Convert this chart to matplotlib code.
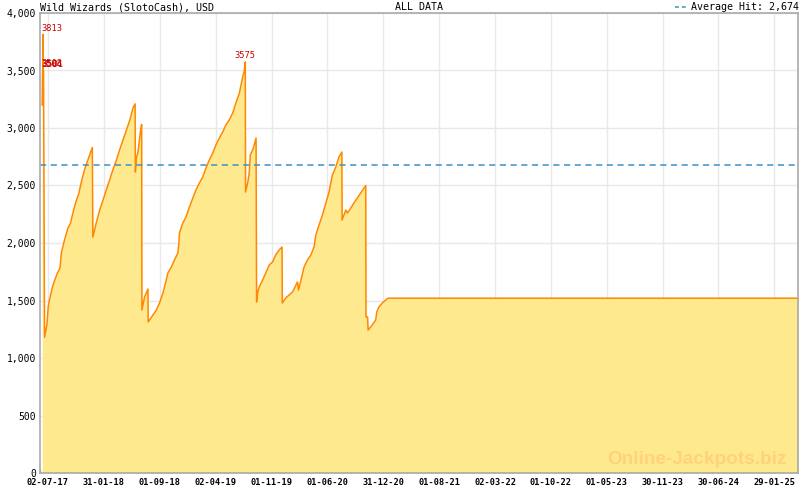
import matplotlib
matplotlib.use("Agg")
import matplotlib.pyplot as plt
import matplotlib.dates as mdates
from matplotlib.lines import Line2D
import numpy as np

# ---------------- data ----------------
dates = [
    "2017-06-10", "2017-06-11", "2017-06-12", "2017-06-13", "2017-06-14", "2017-06-15", "2017-06-19",
    "2017-06-28", "2017-07-03", "2017-07-10", "2017-07-19", "2017-07-28", "2017-08-07", "2017-08-17",
    "2017-08-22", "2017-09-01", "2017-09-16", "2017-09-26", "2017-10-05", "2017-10-15", "2017-10-28",
    "2017-11-06", "2017-11-18", "2017-12-05", "2017-12-18", "2017-12-20",
    "2018-01-02", "2018-01-15", "2018-01-28", "2018-02-09", "2018-02-22", "2018-03-06", "2018-03-20",
    "2018-04-01", "2018-04-14", "2018-04-27", "2018-05-10", "2018-05-22", "2018-05-30", "2018-05-31",
    "2018-06-04", "2018-06-10", "2018-06-20", "2018-06-24", "2018-06-25", "2018-07-05", "2018-07-18",
    "2018-07-19", "2018-08-06", "2018-08-19", "2018-08-31", "2018-09-13", "2018-09-23", "2018-10-02",
    "2018-10-15", "2018-10-27", "2018-11-09", "2018-11-13", "2018-11-15", "2018-11-28", "2018-12-10",
    "2018-12-23", "2019-01-05", "2019-01-17", "2019-01-30", "2019-02-12", "2019-02-24", "2019-03-09",
    "2019-03-22", "2019-04-03", "2019-04-16", "2019-04-29", "2019-05-11", "2019-05-24", "2019-06-06",
    "2019-06-18", "2019-07-01", "2019-07-14", "2019-07-20", "2019-07-24", "2019-07-25", "2019-08-02",
    "2019-08-08", "2019-08-12", "2019-08-21", "2019-08-27", "2019-09-03", "2019-09-05", "2019-09-09",
    "2019-09-15", "2019-09-28", "2019-10-10", "2019-10-23", "2019-11-05", "2019-11-17", "2019-11-30",
    "2019-12-11", "2019-12-12", "2019-12-25", "2020-01-07", "2020-01-20", "2020-02-02", "2020-02-08",
    "2020-02-12", "2020-02-21", "2020-03-04", "2020-03-17", "2020-03-30", "2020-04-11", "2020-04-18",
    "2020-04-30", "2020-05-13", "2020-05-26", "2020-06-07", "2020-06-20", "2020-07-03", "2020-07-15",
    "2020-07-26", "2020-07-27", "2020-08-10", "2020-08-16", "2020-08-29", "2020-09-10", "2020-09-23",
    "2020-10-06", "2020-10-25", "2020-10-26", "2020-11-01", "2020-11-03", "2020-11-19", "2020-12-02",
    "2020-12-06", "2020-12-14", "2020-12-27", "2021-01-09", "2021-01-18", "2025-05-10",
]
values = [
    3200, 3440, 3504, 3813, 3508, 3501, 1180,
    1290, 1450, 1530, 1617, 1678, 1739, 1783,
    1913, 2009, 2130, 2174, 2261, 2348, 2435,
    2530, 2635, 2748, 2830, 2050,
    2174, 2287, 2374, 2461, 2548, 2635, 2722,
    2809, 2896, 2983, 3070, 3174, 3210, 2617,
    2739, 2791, 2983, 3030, 1417, 1530, 1600,
    1313, 1374, 1417, 1478, 1565, 1652, 1739,
    1791, 1852, 1913, 2000, 2087, 2174, 2226,
    2313, 2391, 2461, 2522, 2574, 2652, 2722,
    2783, 2852, 2913, 2965, 3026, 3070, 3130,
    3217, 3300, 3443, 3498, 3575, 2443, 2522,
    2609, 2765, 2809, 2852, 2913, 1487, 1565,
    1617, 1678, 1739, 1809, 1835, 1896, 1939,
    1965, 1478, 1522, 1548, 1574, 1635, 1661,
    1591, 1678, 1791, 1852, 1896, 1965, 2070,
    2157, 2243, 2348, 2443, 2591, 2661, 2748,
    2791, 2200, 2287, 2260, 2304, 2348, 2391,
    2435, 2500, 1357, 1357, 1243, 1287, 1330,
    1400, 1443, 1478, 1504, 1520, 1520,
]
average_hit = 2674
label_threshold = 3500

tick_dates = ["2017-07-02", "2018-01-31", "2018-09-01", "2019-04-02", "2019-11-01",
              "2020-06-01", "2020-12-31", "2021-08-01", "2022-03-02", "2022-10-01",
              "2023-05-01", "2023-11-30", "2024-06-30", "2025-01-29"]
tick_labels = ["02-07-17", "31-01-18", "01-09-18", "02-04-19", "01-11-19",
               "01-06-20", "31-12-20", "01-08-21", "02-03-22", "01-10-22",
               "01-05-23", "30-11-23", "30-06-24", "29-01-25"]
y_ticks = [0, 500, 1000, 1500, 2000, 2500, 3000, 3500, 4000]

title = "Wild Wizards (SlotoCash), USD"
subtitle = "ALL DATA"
watermark = "Online-Jackpots.biz"

# ---------------- drawing ----------------
x = mdates.datestr2num(dates)
v = np.array(values, dtype=float)
xt = mdates.datestr2num(tick_dates)

W, H = 800, 490
fig = plt.figure(figsize=(8, 4.9), dpi=100)
L, R, B, T = 40, 798, 473, 13
ax = fig.add_axes([L / W, 1 - B / H, (R - L) / W, (B - T) / H])

mono = "DejaVu Sans Mono"
fill_c = "#ffe98f"
line_c = "#ff8800"
grid_c = "#e8e8e8"
spine_c = "#aaaaaa"

ax.fill_between(x, 0, v, color=fill_c, lw=0, zorder=2)
ax.plot(x, v, color=line_c, lw=1.1, zorder=3)
ax.axhline(average_hit, color="#3d8fc4", lw=1.1, dashes=(4, 3), zorder=4)

# labels on high points
xmin = xt[0] - 25
xmax = xt[0] + (R - 46.5) * 213 / 56
for xi, vi in zip(x, v):
    if vi > label_threshold:
        ha = "left" if xi - xmin < 10 else "center"
        ax.annotate(f"{int(vi)}", (xi, vi), xytext=(-1 if ha == "left" else 0, 1),
                    textcoords="offset points", ha=ha, va="bottom",
                    fontsize=6.3, family=mono, color="#cc0000", zorder=6)

ax.set_xlim(xmin, xmax)
ax.set_ylim(0, 4000)

ax.set_yticks(y_ticks)
ax.set_yticklabels([f"{t:,}" for t in y_ticks], family=mono, fontsize=7)
ax.tick_params(axis="y", length=0, pad=3, colors="#000000")

ax.set_xticks(xt)
ax.set_xticklabels(tick_labels, family=mono, fontsize=6.2, fontweight="bold")
minor = np.arange(xt[0] - 30.43, xmax, 213 / 7)
ax.set_xticks(minor, minor=True)
ax.tick_params(axis="x", which="major", direction="in", length=5, width=1,
               color=spine_c, pad=3.5, labelcolor="#000000")
ax.tick_params(axis="x", which="minor", direction="in", length=3, width=1, color=spine_c)

ax.grid(True, which="major", color=grid_c, lw=1, zorder=0)
ax.set_axisbelow(True)
for s in ax.spines.values():
    s.set_color(spine_c)
    s.set_linewidth(1.2)
    s.set_zorder(7)

ax.text(0.985, 0.03, watermark, transform=ax.transAxes, ha="right", va="center",
        fontsize=13.7, fontweight="bold", family="Liberation Sans", color="#ffd27c", zorder=5)

# header
fig.text(L / W, 1 - 7.5 / H, title, ha="left", va="center", family=mono, fontsize=7.2)
fig.text((L + R) / 2 / W, 1 - 7.5 / H, subtitle, ha="center", va="center", family=mono, fontsize=7.2)
fig.text(799 / W, 1 - 7.5 / H, f"Average Hit: {average_hit:,}", ha="right", va="center",
         family=mono, fontsize=7.2)
fig.add_artist(Line2D([675 / W, 686 / W], [1 - 7.5 / H, 1 - 7.5 / H], color="#3d8fc4",
                      lw=1.1, dashes=(2.5, 2)))

fig.savefig("out.png", dpi=100)
